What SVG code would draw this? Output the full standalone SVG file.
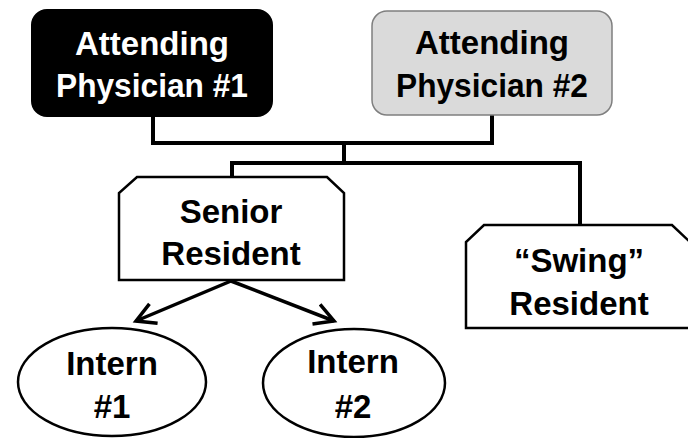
<svg xmlns="http://www.w3.org/2000/svg" width="688" height="438" viewBox="0 0 688 438">
  <style>
    .t { font-family: "Liberation Sans", Arial, sans-serif; font-weight: bold; font-size: 33px; text-anchor: middle; fill: #000; }
    .w { fill: #fff; }
    .shape { fill: #fff; stroke: #000; stroke-width: 2.5; }
    .conn { fill: none; stroke: #000; stroke-width: 4; stroke-linejoin: miter; }
    .arrow { fill: none; stroke: #000; stroke-width: 3.5; }
  </style>
  <defs>
    <marker id="open" markerUnits="userSpaceOnUse" markerWidth="30" markerHeight="30" refX="20" refY="12" orient="auto" viewBox="0 0 30 24">
      <path d="M1,1.5 L20,12 L1,22.5" fill="none" stroke="#000" stroke-width="3.5" stroke-linejoin="miter"/>
    </marker>
  </defs>
  <g id="connectors">
    <polyline class="conn" points="153,116 153,143 492,143 492,115"/>
    <polyline class="conn" points="344,143 344,163"/>
    <polyline class="conn" points="232,178 232,163 580,163 580,226"/>
    <line class="arrow" x1="231" y1="281" x2="136" y2="321" marker-end="url(#open)"/>
    <line class="arrow" x1="231" y1="281" x2="334" y2="321" marker-end="url(#open)"/>
  </g>
  <g id="attending1">
    <rect x="32" y="10" width="240" height="106" rx="15" ry="15" fill="#000" stroke="#000" stroke-width="2"/>
    <text class="t w" x="152" y="55">Attending</text>
    <text class="t w" x="152" y="97" textLength="192" lengthAdjust="spacingAndGlyphs">Physician #1</text>
  </g>
  <g id="attending2">
    <rect x="372" y="11" width="240" height="104" rx="15" ry="15" fill="#dadada" stroke="#7f7f7f" stroke-width="1.5"/>
    <text class="t" x="492" y="54">Attending</text>
    <text class="t" x="492" y="97" textLength="192" lengthAdjust="spacingAndGlyphs">Physician #2</text>
  </g>
  <g id="senior">
    <path class="shape" d="M137,177 L327,177 L344,193 L344,280 L119,280 L119,193 Z"/>
    <text class="t" x="231" y="223">Senior</text>
    <text class="t" x="231" y="265">Resident</text>
  </g>
  <g id="swing">
    <path class="shape" d="M484,225 L672,225 L690,242 L690,328 L466,328 L466,242 Z"/>
    <text class="t" x="579" y="272">“Swing”</text>
    <text class="t" x="579" y="315">Resident</text>
  </g>
  <g id="intern1">
    <ellipse class="shape" cx="112" cy="382" rx="94" ry="54" stroke-width="2"/>
    <text class="t" x="112" y="375">Intern</text>
    <text class="t" x="112" y="418">#1</text>
  </g>
  <g id="intern2">
    <ellipse class="shape" cx="354" cy="383" rx="91" ry="54" stroke-width="2"/>
    <text class="t" x="353" y="373">Intern</text>
    <text class="t" x="353" y="418">#2</text>
  </g>
</svg>
